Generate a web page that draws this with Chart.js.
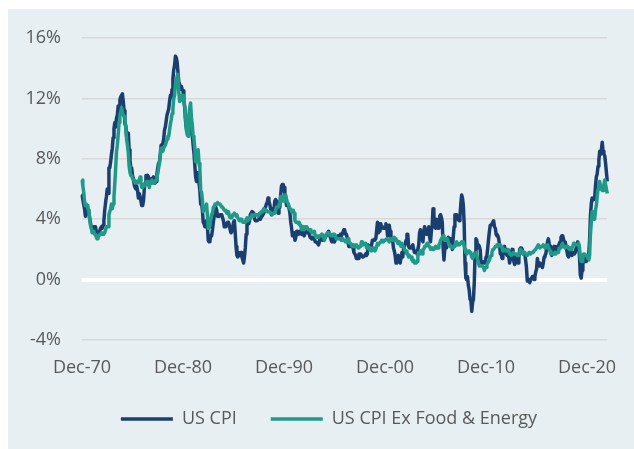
<!DOCTYPE html>
<html>
<head>
<meta charset="utf-8">
<script src="https://cdn.jsdelivr.net/npm/chart.js@4.4.1/dist/chart.umd.min.js"></script>
<style>
  html, body { margin: 0; padding: 0; background: #ffffff; }
  #panel { position: absolute; left: 8px; top: 9px; width: 626px; height: 440px; background: #e7eff2; }
  #wrap { position: absolute; left: 0; top: 0; width: 634px; height: 449px; }
</style>
</head>
<body>
<div id="panel"></div>
<div id="wrap"><canvas id="chart" width="634" height="449"></canvas></div>
<script>
// monthly YoY %, Dec-1970 .. Dec-2022
const seriesNames = ['US CPI', 'US CPI Ex Food & Energy'];
const tickLabels = ['Dec-70', 'Dec-80', 'Dec-90', 'Dec-00', 'Dec-10', 'Dec-20'];
const yTicks = [-4, 0, 4, 8, 12, 16];

const cpi = [
  5.6,
  5.3, 5.0, 4.7, 4.2, 4.4, 4.6, 4.4, 4.6, 4.1, 3.8, 3.5, 3.3,   // 71
  3.3, 3.5, 3.5, 3.5, 3.2, 3.0, 3.1, 3.0, 3.2, 3.4, 3.5, 3.4,   // 72
  3.6, 3.9, 4.6, 5.1, 5.5, 6.0, 5.7, 7.4, 7.4, 7.8, 8.3, 8.7,   // 73
  9.4, 10.0, 10.4, 10.1, 10.7, 10.9, 11.5, 10.9, 11.9, 12.1, 12.2, 12.3, // 74
  11.8, 11.2, 10.3, 10.2, 9.5, 9.4, 9.7, 8.6, 7.9, 7.4, 7.4, 6.9, // 75
  6.7, 6.3, 6.1, 6.0, 6.2, 5.9, 5.4, 5.7, 5.5, 5.5, 4.9, 4.9,   // 76
  5.2, 6.0, 6.4, 6.9, 6.7, 6.9, 6.8, 6.6, 6.6, 6.4, 6.7, 6.7,   // 77
  6.8, 6.4, 6.4, 6.5, 7.0, 7.4, 7.7, 7.8, 8.3, 8.9, 8.9, 9.0,   // 78
  9.3, 9.9, 10.1, 10.5, 10.9, 10.9, 11.3, 11.8, 12.2, 12.1, 12.6, 13.3, // 79
  13.9, 14.2, 14.8, 14.7, 14.4, 14.4, 13.1, 12.9, 12.6, 12.8, 12.6, 12.5, // 80
  11.8, 11.4, 10.5, 10.0, 9.8, 9.6, 10.8, 10.8, 11.0, 10.1, 9.6, 8.9, // 81
  8.4, 7.6, 6.8, 6.5, 6.7, 7.1, 6.4, 5.9, 5.0, 5.1, 4.6, 3.8,   // 82
  3.7, 3.5, 3.6, 3.9, 3.5, 2.6, 2.5, 2.6, 2.9, 2.9, 3.3, 3.8,   // 83
  4.2, 4.6, 4.8, 4.6, 4.2, 4.2, 4.2, 4.3, 4.3, 4.3, 4.1, 3.9,   // 84
  3.5, 3.5, 3.7, 3.7, 3.8, 3.8, 3.6, 3.3, 3.1, 3.2, 3.5, 3.8,   // 85
  3.9, 3.1, 2.2, 1.6, 1.5, 1.8, 1.6, 1.6, 1.8, 1.5, 1.3, 1.1,   // 86
  1.5, 2.1, 3.0, 3.8, 3.9, 3.7, 3.9, 4.3, 4.4, 4.5, 4.5, 4.4,   // 87
  4.0, 3.9, 3.9, 3.9, 3.9, 4.0, 4.1, 4.0, 4.2, 4.2, 4.2, 4.4,   // 88
  4.7, 4.8, 5.0, 5.1, 5.4, 5.2, 5.0, 4.7, 4.3, 4.5, 4.7, 4.6,   // 89
  5.2, 5.3, 5.2, 4.7, 4.4, 4.7, 4.8, 5.6, 6.2, 6.3, 6.3, 6.1,   // 90
  5.7, 5.3, 4.9, 4.9, 5.0, 4.7, 4.4, 3.8, 3.4, 2.9, 3.0, 3.1,   // 91
  2.6, 2.8, 3.2, 3.2, 3.0, 3.1, 3.2, 3.1, 3.0, 3.2, 3.0, 2.9,   // 92
  3.3, 3.2, 3.1, 3.2, 3.2, 3.0, 2.8, 2.8, 2.7, 2.8, 2.7, 2.7,   // 93
  2.5, 2.5, 2.5, 2.4, 2.3, 2.5, 2.8, 2.9, 3.0, 2.6, 2.7, 2.7,   // 94
  2.8, 2.9, 2.9, 3.1, 3.2, 3.0, 2.8, 2.6, 2.5, 2.8, 2.6, 2.5,   // 95
  2.7, 2.7, 2.8, 2.9, 2.9, 2.8, 3.0, 2.9, 3.0, 3.0, 3.3, 3.3,   // 96
  3.0, 3.0, 2.8, 2.5, 2.2, 2.3, 2.2, 2.2, 2.2, 2.1, 1.8, 1.7,   // 97
  1.6, 1.4, 1.4, 1.4, 1.7, 1.7, 1.7, 1.6, 1.5, 1.5, 1.5, 1.6,   // 98
  1.7, 1.6, 1.7, 2.3, 2.1, 2.0, 2.1, 2.3, 2.6, 2.6, 2.6, 2.7,   // 99
  2.7, 3.2, 3.8, 3.1, 3.2, 3.7, 3.7, 3.4, 3.5, 3.4, 3.4, 3.4,   // 00
  3.7, 3.5, 2.9, 3.3, 3.6, 3.2, 2.7, 2.7, 2.6, 2.1, 1.9, 1.6,   // 01
  1.1, 1.1, 1.5, 1.6, 1.2, 1.1, 1.5, 1.8, 1.5, 2.0, 2.2, 2.4,   // 02
  2.6, 3.0, 3.0, 2.2, 2.1, 2.1, 2.1, 2.2, 2.3, 2.0, 1.8, 1.9,   // 03
  1.9, 1.7, 1.7, 2.3, 3.1, 3.3, 3.0, 2.7, 2.5, 3.2, 3.5, 3.3,   // 04
  3.0, 3.0, 3.1, 3.5, 2.8, 2.5, 3.2, 3.6, 4.7, 4.3, 3.5, 3.4,   // 05
  4.0, 3.6, 3.4, 3.5, 4.2, 4.3, 4.1, 3.8, 2.1, 1.3, 2.0, 2.5,   // 06
  2.1, 2.4, 2.8, 2.6, 2.7, 2.7, 2.4, 2.0, 2.8, 3.5, 4.3, 4.1,   // 07
  4.3, 4.0, 4.0, 3.9, 4.2, 5.0, 5.6, 5.4, 4.9, 3.7, 1.1, 0.1,   // 08
  0.0, 0.2, -0.4, -0.7, -1.3, -1.4, -2.1, -1.5, -1.3, -0.2, 1.8, 2.7, // 09
  2.6, 2.1, 2.3, 2.2, 2.0, 1.1, 1.2, 1.1, 1.1, 1.2, 1.1, 1.5,   // 10
  1.6, 2.1, 2.7, 3.2, 3.6, 3.6, 3.6, 3.8, 3.9, 3.5, 3.4, 3.0,   // 11
  2.9, 2.9, 2.7, 2.3, 1.7, 1.7, 1.4, 1.7, 2.0, 2.2, 1.8, 1.7,   // 12
  1.6, 2.0, 1.5, 1.1, 1.4, 1.8, 2.0, 1.5, 1.2, 1.0, 1.2, 1.5,   // 13
  1.6, 1.1, 1.5, 2.0, 2.1, 2.1, 2.0, 1.7, 1.7, 1.7, 1.3, 0.8,   // 14
  -0.1, 0.0, -0.1, -0.2, 0.0, 0.1, 0.2, 0.2, 0.0, 0.2, 0.5, 0.7, // 15
  1.4, 1.0, 0.9, 1.1, 1.0, 1.0, 0.8, 1.1, 1.5, 1.6, 1.7, 2.1,   // 16
  2.5, 2.7, 2.4, 2.2, 1.9, 1.6, 1.7, 1.9, 2.2, 2.0, 2.2, 2.1,   // 17
  2.1, 2.2, 2.4, 2.5, 2.8, 2.9, 2.9, 2.7, 2.3, 2.5, 2.2, 1.9,   // 18
  1.6, 1.5, 1.9, 2.0, 1.8, 1.6, 1.8, 1.7, 1.7, 1.8, 2.1, 2.3,   // 19
  2.5, 2.3, 1.5, 0.3, 0.1, 0.6, 1.0, 1.3, 1.4, 1.2, 1.2, 1.4,   // 20
  1.4, 1.7, 2.6, 4.2, 5.0, 5.4, 5.4, 5.3, 5.4, 6.2, 6.8, 7.0,   // 21
  7.5, 7.9, 8.5, 8.3, 8.6, 9.1, 8.5, 8.3, 8.2, 7.7, 7.1, 6.5    // 22
];

const core = [
  6.6,
  6.2, 5.8, 5.2, 4.9, 5.0, 4.9, 4.7, 4.6, 4.0, 3.6, 3.4, 3.1,   // 71
  3.1, 3.2, 3.0, 3.0, 2.8, 2.7, 2.9, 2.9, 3.0, 3.0, 3.1, 3.0,   // 72
  3.0, 3.1, 3.1, 3.3, 3.5, 3.5, 3.5, 4.3, 4.5, 4.7, 5.0, 4.7,   // 73
  5.0, 5.5, 6.4, 7.4, 8.5, 8.9, 9.6, 10.4, 10.9, 11.1, 11.4, 11.1, // 74
  10.9, 10.8, 10.7, 10.0, 9.3, 8.9, 8.4, 7.5, 7.1, 6.9, 6.9, 6.7, // 75
  6.6, 6.6, 6.4, 6.4, 6.5, 6.4, 6.5, 6.6, 6.8, 6.4, 6.1, 6.1,   // 76
  6.3, 6.2, 6.3, 6.4, 6.5, 6.5, 6.3, 6.1, 6.5, 6.4, 6.6, 6.5,   // 77
  6.5, 6.4, 6.5, 6.6, 6.8, 7.0, 7.4, 7.7, 8.2, 8.7, 8.7, 8.5,   // 78
  8.7, 8.8, 8.9, 9.1, 9.3, 9.5, 9.5, 9.9, 10.3, 10.6, 11.0, 11.3, // 79
  12.0, 12.2, 13.0, 13.0, 13.5, 13.6, 12.4, 11.8, 11.9, 11.9, 12.2, 12.2, // 80
  11.9, 11.5, 10.8, 9.9, 9.6, 9.5, 10.9, 11.4, 11.7, 10.7, 10.3, 9.5, // 81
  9.3, 8.7, 7.8, 7.8, 8.1, 8.6, 7.7, 7.4, 5.9, 5.8, 5.3, 4.5,   // 82
  4.7, 4.7, 4.7, 5.0, 4.2, 3.4, 3.4, 3.4, 4.0, 4.3, 4.4, 4.8,   // 83
  4.8, 5.0, 5.0, 5.0, 5.1, 5.0, 5.0, 5.0, 5.0, 4.8, 4.8, 4.7,   // 84
  4.6, 4.6, 4.5, 4.4, 4.5, 4.5, 4.2, 4.1, 4.1, 4.1, 4.3, 4.3,   // 85
  4.4, 4.3, 4.2, 4.3, 4.1, 4.0, 3.9, 3.9, 4.0, 3.9, 3.8, 3.8,   // 86
  3.8, 3.8, 4.0, 4.1, 3.9, 4.0, 4.0, 4.1, 4.2, 4.3, 4.3, 4.2,   // 87
  4.3, 4.3, 4.3, 4.3, 4.2, 4.3, 4.4, 4.4, 4.5, 4.5, 4.6, 4.7,   // 88
  4.6, 4.6, 4.6, 4.5, 4.5, 4.5, 4.5, 4.4, 4.4, 4.3, 4.4, 4.4,   // 89
  4.4, 4.6, 4.8, 4.8, 4.8, 5.0, 5.0, 5.5, 5.5, 5.3, 5.2, 5.2,   // 90
  5.6, 5.6, 5.3, 5.1, 5.0, 4.8, 4.8, 4.6, 4.5, 4.6, 4.6, 4.4,   // 91
  3.9, 3.8, 3.8, 3.8, 3.7, 3.8, 3.6, 3.5, 3.3, 3.5, 3.5, 3.3,   // 92
  3.5, 3.4, 3.5, 3.4, 3.3, 3.3, 3.3, 3.2, 3.1, 3.1, 3.1, 3.2,   // 93
  2.9, 2.8, 2.9, 2.8, 2.8, 2.9, 2.9, 2.9, 3.0, 2.9, 2.8, 2.6,   // 94
  2.9, 3.0, 3.0, 3.1, 3.1, 3.0, 3.0, 2.9, 2.9, 3.0, 3.0, 3.0,   // 95
  2.9, 2.7, 2.7, 2.7, 2.7, 2.7, 2.7, 2.6, 2.7, 2.6, 2.6, 2.6,   // 96
  2.5, 2.5, 2.5, 2.7, 2.5, 2.4, 2.4, 2.3, 2.2, 2.3, 2.2, 2.2,   // 97
  2.2, 2.3, 2.2, 2.1, 2.2, 2.2, 2.2, 2.5, 2.5, 2.3, 2.3, 2.4,   // 98
  2.4, 2.1, 2.1, 2.2, 2.0, 2.1, 2.1, 1.9, 2.0, 2.1, 2.1, 1.9,   // 99
  2.0, 2.2, 2.4, 2.3, 2.4, 2.4, 2.5, 2.6, 2.6, 2.5, 2.6, 2.6,   // 00
  2.6, 2.7, 2.7, 2.6, 2.5, 2.7, 2.7, 2.7, 2.6, 2.6, 2.8, 2.7,   // 01
  2.6, 2.6, 2.4, 2.5, 2.5, 2.3, 2.2, 2.4, 2.2, 2.2, 2.0, 1.9,   // 02
  1.9, 1.7, 1.7, 1.5, 1.6, 1.5, 1.5, 1.3, 1.2, 1.3, 1.1, 1.1,   // 03
  1.1, 1.2, 1.6, 1.8, 1.7, 1.9, 1.8, 1.7, 2.0, 2.0, 2.2, 2.2,   // 04
  2.3, 2.4, 2.3, 2.2, 2.2, 2.0, 2.1, 2.1, 2.0, 2.1, 2.1, 2.2,   // 05
  2.1, 2.1, 2.1, 2.3, 2.4, 2.6, 2.7, 2.8, 2.9, 2.7, 2.6, 2.6,   // 06
  2.7, 2.7, 2.5, 2.3, 2.2, 2.2, 2.2, 2.1, 2.1, 2.2, 2.3, 2.4,   // 07
  2.5, 2.3, 2.4, 2.3, 2.3, 2.4, 2.5, 2.5, 2.5, 2.2, 2.0, 1.8,   // 08
  1.7, 1.8, 1.8, 1.9, 1.8, 1.7, 1.5, 1.4, 1.5, 1.7, 1.7, 1.8,   // 09
  1.6, 1.3, 1.1, 0.9, 0.9, 0.9, 0.9, 0.9, 0.8, 0.6, 0.8, 0.8,   // 10
  1.0, 1.1, 1.2, 1.3, 1.5, 1.6, 1.8, 2.0, 2.0, 2.1, 2.2, 2.2,   // 11
  2.3, 2.2, 2.3, 2.3, 2.3, 2.2, 2.1, 1.9, 2.0, 2.0, 1.9, 1.9,   // 12
  1.9, 2.0, 1.9, 1.7, 1.7, 1.6, 1.7, 1.8, 1.7, 1.7, 1.7, 1.7,   // 13
  1.6, 1.6, 1.7, 1.8, 2.0, 1.9, 1.9, 1.7, 1.7, 1.8, 1.7, 1.6,   // 14
  1.6, 1.7, 1.8, 1.8, 1.7, 1.8, 1.8, 1.8, 1.9, 1.9, 2.0, 2.1,   // 15
  2.2, 2.3, 2.2, 2.1, 2.2, 2.2, 2.2, 2.3, 2.2, 2.1, 2.1, 2.2,   // 16
  2.3, 2.2, 2.0, 1.9, 1.7, 1.7, 1.7, 1.7, 1.7, 1.8, 1.7, 1.8,   // 17
  1.8, 1.8, 2.1, 2.1, 2.2, 2.3, 2.4, 2.2, 2.2, 2.1, 2.2, 2.2,   // 18
  2.2, 2.1, 2.0, 2.1, 2.0, 2.1, 2.2, 2.4, 2.4, 2.3, 2.3, 2.3,   // 19
  2.3, 2.4, 2.1, 1.4, 1.2, 1.2, 1.6, 1.7, 1.7, 1.6, 1.6, 1.6,   // 20
  1.4, 1.3, 1.6, 3.0, 3.8, 4.5, 4.3, 4.0, 4.0, 4.6, 4.9, 5.5,   // 21
  6.0, 6.4, 6.5, 6.2, 6.0, 5.9, 5.9, 6.3, 6.6, 6.3, 6.0, 5.7    // 22
];

// month labels Dec-70 .. Dec-22
const monthNames = ['Jan','Feb','Mar','Apr','May','Jun','Jul','Aug','Sep','Oct','Nov','Dec'];
const labels = cpi.map((v, i) => {
  const m = 11 + i;
  const yr = (1970 + Math.floor(m / 12)) % 100;
  return monthNames[m % 12] + '-' + String(yr).padStart(2, '0');
});

const textColor = '#595959';
const fontFamily = '"Open Sans", "Noto Sans", sans-serif';

// nudge the legend right so it sits where the original has it
const legendShift = {
  id: 'legendShift',
  afterLayout(chart) {
    chart.legend.left += 23;
    chart.legend.right += 23;
  }
};

new Chart(document.getElementById('chart').getContext('2d'), {
  type: 'line',
  data: {
    labels: labels,
    datasets: [{
      label: seriesNames[0],
      data: cpi,
      borderColor: '#1a3e70',
      backgroundColor: '#1a3e70',
      borderWidth: 3.5,
      pointRadius: 0,
      tension: 0,
      borderJoinStyle: 'round',
      order: 1
    }, {
      label: seriesNames[1],
      data: core,
      borderColor: '#1f9a88',
      backgroundColor: '#1f9a88',
      borderWidth: 3.5,
      pointRadius: 0,
      tension: 0,
      borderJoinStyle: 'round',
      order: 0   // drawn on top, like the original
    }]
  },
  options: {
    responsive: false,
    animation: false,
    layout: { padding: { left: 0, right: 22, top: 38, bottom: 11 } },
    scales: {
      x: {
        type: 'category',
        grid: { display: false, drawTicks: false },
        border: { display: false },
        afterBuildTicks: (scale) => {
          scale.ticks = labels.map((l, i) => i)
            .filter(i => tickLabels.includes(labels[i]))
            .map(i => ({ value: i }));
        },
        afterFit: (scale) => { scale.height = 36; },
        ticks: {
          autoSkip: false,
          maxRotation: 0,
          padding: 17,
          color: textColor,
          font: { family: fontFamily, size: 18 }
        }
      },
      y: {
        min: -4,
        max: 16,
        afterBuildTicks: (scale) => { scale.ticks = yTicks.map(v => ({ value: v })); },
        afterFit: (scale) => { scale.width = 82; },
        border: { display: false },
        grid: {
          drawTicks: false,
          color: (ctx) => ctx.tick && ctx.tick.value === 0 ? '#ffffff' : '#d9d9d9',
          lineWidth: (ctx) => ctx.tick && ctx.tick.value === 0 ? 4 : 1.5
        },
        ticks: {
          padding: 21,
          color: textColor,
          font: { family: fontFamily, size: 18 },
          callback: (v) => v + '%'
        }
      }
    },
    plugins: {
      legend: {
        position: 'bottom',
        labels: {
          usePointStyle: true,
          pointStyle: 'line',
          pointStyleWidth: 52,
          padding: 34,
          color: textColor,
          font: { family: fontFamily, size: 18 },
          sort: (a, b) => a.datasetIndex - b.datasetIndex
        }
      },
      tooltip: { enabled: false }
    }
  },
  plugins: [legendShift]
});
</script>
</body>
</html>
